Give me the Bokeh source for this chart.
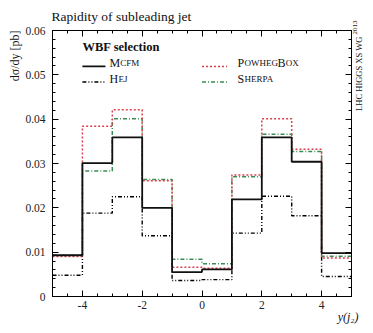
import numpy as np
from math import pi
from bokeh.plotting import figure
from bokeh.models import Range1d, LinearAxis, FixedTicker, Label, Title
from bokeh.embed import file_html
from bokeh.resources import INLINE

# ---- data ----
edges = [-5, -4, -3, -2, -1, 0, 1, 2, 3, 4, 5]
mcfm = [0.0093, 0.0301, 0.0359, 0.0200, 0.0055, 0.0061, 0.0219, 0.0359, 0.0304, 0.0098]
hej = [0.0048, 0.0188, 0.0225, 0.0137, 0.0036, 0.0038, 0.0143, 0.0226, 0.0182, 0.0045]
powheg = [0.0090, 0.0384, 0.0421, 0.0261, 0.0066, 0.0064, 0.0274, 0.0401, 0.0332, 0.0087]
sherpa = [0.0093, 0.0283, 0.0401, 0.0264, 0.0084, 0.0074, 0.0270, 0.0366, 0.0327, 0.0091]
x_ticks = [-4, -2, 0, 2, 4]
x_tick_labels = ["-4", "-2", "0", "2", "4"]
y_ticks = [0, 0.01, 0.02, 0.03, 0.04, 0.05, 0.06]
y_tick_labels = ["0", "0.01", "0.02", "0.03", "0.04", "0.05", "0.06"]

FONT = "Liberation Serif"
RED = "#d9404c"
GREEN = "#3a8c55"
INK = "#111111"

p = figure(width=365, height=325, output_backend="svg", toolbar_location=None,
           x_range=Range1d(-5, 5), y_range=Range1d(0, 0.06),
           min_border_left=52, min_border_right=0, min_border_top=30, min_border_bottom=0,
           x_axis_type=None, y_axis_type=None)
p.grid.visible = False
p.outline_line_color = "black"
p.background_fill_color = "white"
p.border_fill_color = "white"

xminor = list(np.arange(-5, 5.01, 0.5))
yminor = list(np.arange(0, 0.0601, 0.002))


def make_axis(ticks, labels, minor, show_labels, standoff=6):
    ax = LinearAxis(ticker=FixedTicker(ticks=ticks, minor_ticks=minor))
    ax.major_label_overrides = {t: (l if show_labels else "") for t, l in zip(ticks, labels)}
    ax.major_tick_in = 6
    ax.major_tick_out = 0
    ax.minor_tick_in = 3
    ax.minor_tick_out = 0
    ax.axis_line_color = "black"
    ax.major_tick_line_color = "black"
    ax.minor_tick_line_color = "black"
    ax.major_label_text_font = FONT
    ax.major_label_text_font_size = "11.5px"
    ax.major_label_text_color = "#222222"
    ax.major_label_standoff = standoff if show_labels else 0
    return ax


p.add_layout(make_axis(x_ticks, x_tick_labels, xminor, True, 4), "below")
p.add_layout(make_axis(x_ticks, x_tick_labels, xminor, False), "above")
p.add_layout(make_axis(y_ticks, y_tick_labels, yminor, True, 7), "left")
p.add_layout(make_axis(y_ticks, y_tick_labels, yminor, False), "right")

# ---- histograms ----
def stepy(v):
    return list(v) + [v[-1]]

p.step(edges, stepy(hej), mode="after", line_color="black", line_width=1.4, line_dash="4 2 1 2 1 2")
p.step(edges, stepy(sherpa), mode="after", line_color=GREEN, line_width=1.5, line_dash="4 2 1 2")
p.step(edges, stepy(powheg), mode="after", line_color=RED, line_width=1.5, line_dash="2 2")
p.step(edges, stepy(mcfm), mode="after", line_color=INK, line_width=1.8)

# ---- legend (manual) ----
ly1, ly2 = 0.0519, 0.0484
p.line([-4.0, -3.23], [ly1, ly1], line_color=INK, line_width=1.8)
p.line([-4.0, -3.23], [ly2, ly2], line_color="black", line_width=1.4, line_dash="4 2 1 2 1 2")
p.line([0.0, 0.84], [ly1, ly1], line_color=RED, line_width=1.5, line_dash="2 2")
p.line([0.0, 0.84], [ly2, ly2], line_color=GREEN, line_width=1.5, line_dash="4 2 1 2")


def lab(x, y, text, size, **kw):
    opts = dict(x=x, y=y, x_units="screen", y_units="screen", text=text,
                text_font=FONT, text_font_size=f"{size}px", text_color=INK,
                text_baseline="middle", text_align="left")
    opts.update(kw)
    return Label(**opts)


W = {"M": .889, "C": .667, "F": .556, "H": .722, "E": .611, "J": .389, "P": .556,
     "O": .722, "W": .944, "G": .722, "B": .667, "X": .722, "S": .556, "R": .667, "A": .722}


def smallcaps(x, y, parts, big=12, small=9):
    for txt, isbig in parts:
        s = big if isbig else small
        p.add_layout(lab(x, y, txt, s, text_baseline="alphabetic"))
        x += sum(W[c] for c in txt) * s * 0.97 + 0.5


p.add_layout(lab(30, 250, "WBF selection", 12.5, text_font_style="bold"))
smallcaps(57, 234, [("M", True), ("CFM", False)])
smallcaps(57, 218, [("H", True), ("EJ", False)])
smallcaps(185, 234, [("P", True), ("OWHEG", False), ("B", True), ("OX", False)])
smallcaps(185, 218, [("S", True), ("HERPA", False)])

# ---- titles / axis labels ----
p.title = Title(text="Rapidity of subleading jet", align="left", vertical_align="top",
                text_font=FONT, text_font_size="13.5px", text_font_style="normal",
                text_color=INK, standoff=10, offset=-1)
p.add_layout(Title(text="dσ/dy [pb]", align="right", text_font=FONT, text_font_size="12px",
                   text_font_style="normal", text_color=INK, standoff=1), "left")
p.add_layout(lab(306, 9, "y(j₂)", 12, text_align="right", text_font_style="italic"), "below")
p.add_layout(lab(3, 276, "2013", 7, angle=pi / 2, text_align="right"), "right")
p.add_layout(lab(3, 260, "LHC HIGGS XS WG", 8.5, angle=pi / 2, text_align="right"), "right")

open("out.html", "w").write(file_html(p, INLINE))
